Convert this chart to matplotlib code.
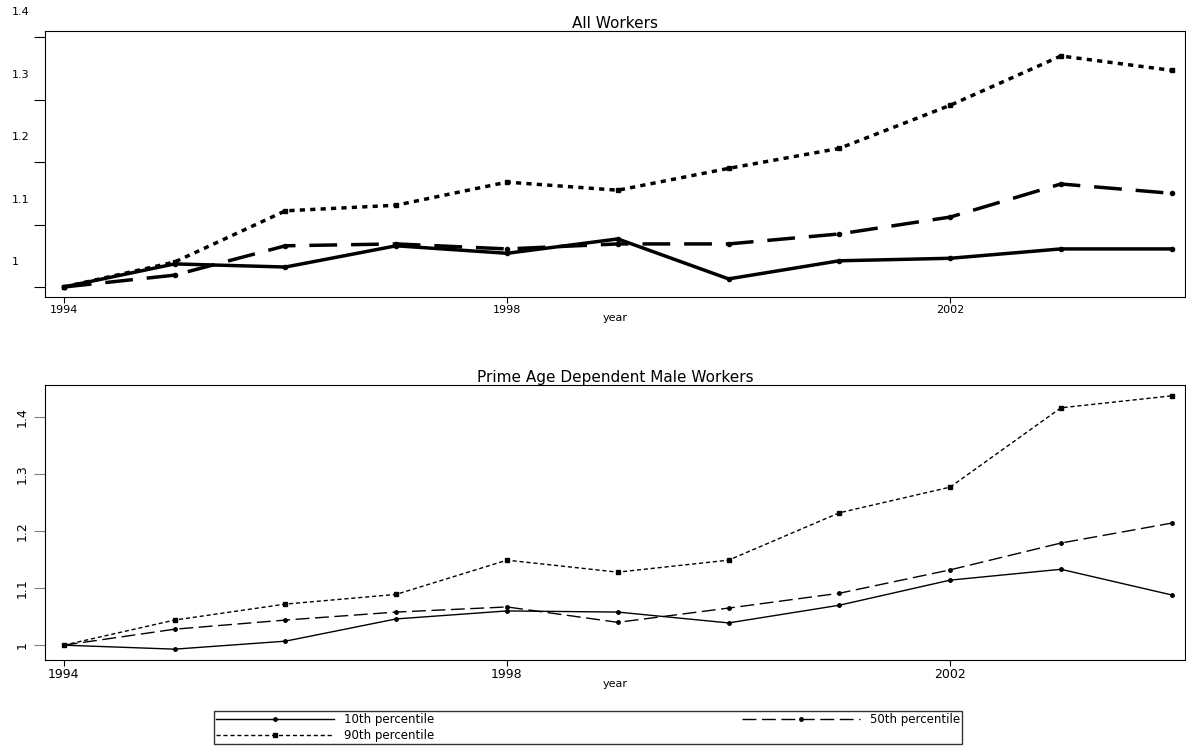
import matplotlib.pyplot as plt
import numpy as np

years = np.arange(1994, 2005)
all_p10 = [1.0, 1.037, 1.032, 1.066, 1.054, 1.077, 1.013, 1.042, 1.046, 1.061, 1.061]
all_p50 = [1.0, 1.019, 1.066, 1.069, 1.061, 1.069, 1.069, 1.085, 1.112, 1.165, 1.150]
all_p90 = [1.0, 1.04, 1.122, 1.131, 1.168, 1.155, 1.19, 1.222, 1.291, 1.370, 1.347]
pa_p10 = [1.0, 0.993, 1.007, 1.046, 1.060, 1.058, 1.039, 1.070, 1.114, 1.133, 1.088]
pa_p50 = [1.0, 1.028, 1.044, 1.058, 1.067, 1.040, 1.065, 1.091, 1.132, 1.179, 1.214]
pa_p90 = [1.0, 1.044, 1.072, 1.089, 1.149, 1.128, 1.149, 1.232, 1.277, 1.416, 1.437]
yt = [1, 1.1, 1.2, 1.3, 1.4]
ytl = ['1', '1.1', '1.2', '1.3', '1.4']

fig = plt.figure(figsize=(11.86, 7.54), dpi=100)
ax1 = fig.add_axes([45/1186, 1-297/754, 1140/1186, 266/754])
ax2 = fig.add_axes([45/1186, 1-660/754, 1140/1186, 275/754])

# top panel: thick lines, labels sit above the ticks
ax1.plot(years, all_p10, 'k-', lw=2.5, marker='o', ms=3)
ax1.plot(years, all_p50, color='k', lw=2.5, dashes=(8, 4), marker='o', ms=3)
ax1.plot(years, all_p90, color='k', lw=2.5, dashes=(1.5, 1.5), marker='s', ms=3)
ax1.set_ylim(0.984, 1.41)
ax1.set_yticks(yt)
ax1.set_yticklabels([])
for v, l in zip(yt, ytl):
    ax1.annotate(l, (0, v), xycoords=('axes fraction', 'data'), xytext=(-33, 25),
                 textcoords='offset pixels', fontsize=8, va='center', ha='left')
ax1.set_title('All Workers', fontsize=11, pad=2)
ax1.tick_params(axis='y', length=8)

# bottom panel
l1, = ax2.plot(years, pa_p10, 'k-', lw=1, marker='o', ms=2.5)
l2, = ax2.plot(years, pa_p50, color='k', lw=1, dashes=(10, 4), marker='o', ms=2.5)
l3, = ax2.plot(years, pa_p90, color='k', lw=1, dashes=(3, 2), marker='s', ms=2.5)
ax2.set_ylim(0.974, 1.456)
ax2.set_yticks(yt)
ax2.set_yticklabels(ytl, rotation=90, va='center', fontsize=9)
ax2.tick_params(axis='y', color='gray', length=8)
ax2.set_title('Prime Age Dependent Male Workers', fontsize=11, pad=2)

for ax, fs in ((ax1, 8), (ax2, 9)):
    ax.set_xlim(1993.83, 2004.12)
    ax.set_xticks([1994, 1998, 2002])
    ax.set_xticklabels(['1994', '1998', '2002'], fontsize=fs)
    ax.set_xlabel('year', fontsize=8, labelpad=-2)
    ax.tick_params(axis='x', length=4, pad=2)

fig.legend([l1, l3, l2], ['10th percentile', '90th percentile', '50th percentile'],
           ncol=2, loc='lower left', bbox_to_anchor=(208/1186, 4/754, 760/1186, 44/754),
           mode='expand', fontsize=8.5, frameon=True, fancybox=False, edgecolor='k',
           handlelength=10, borderpad=0.2, labelspacing=0.2)
fig.savefig('out.png')
